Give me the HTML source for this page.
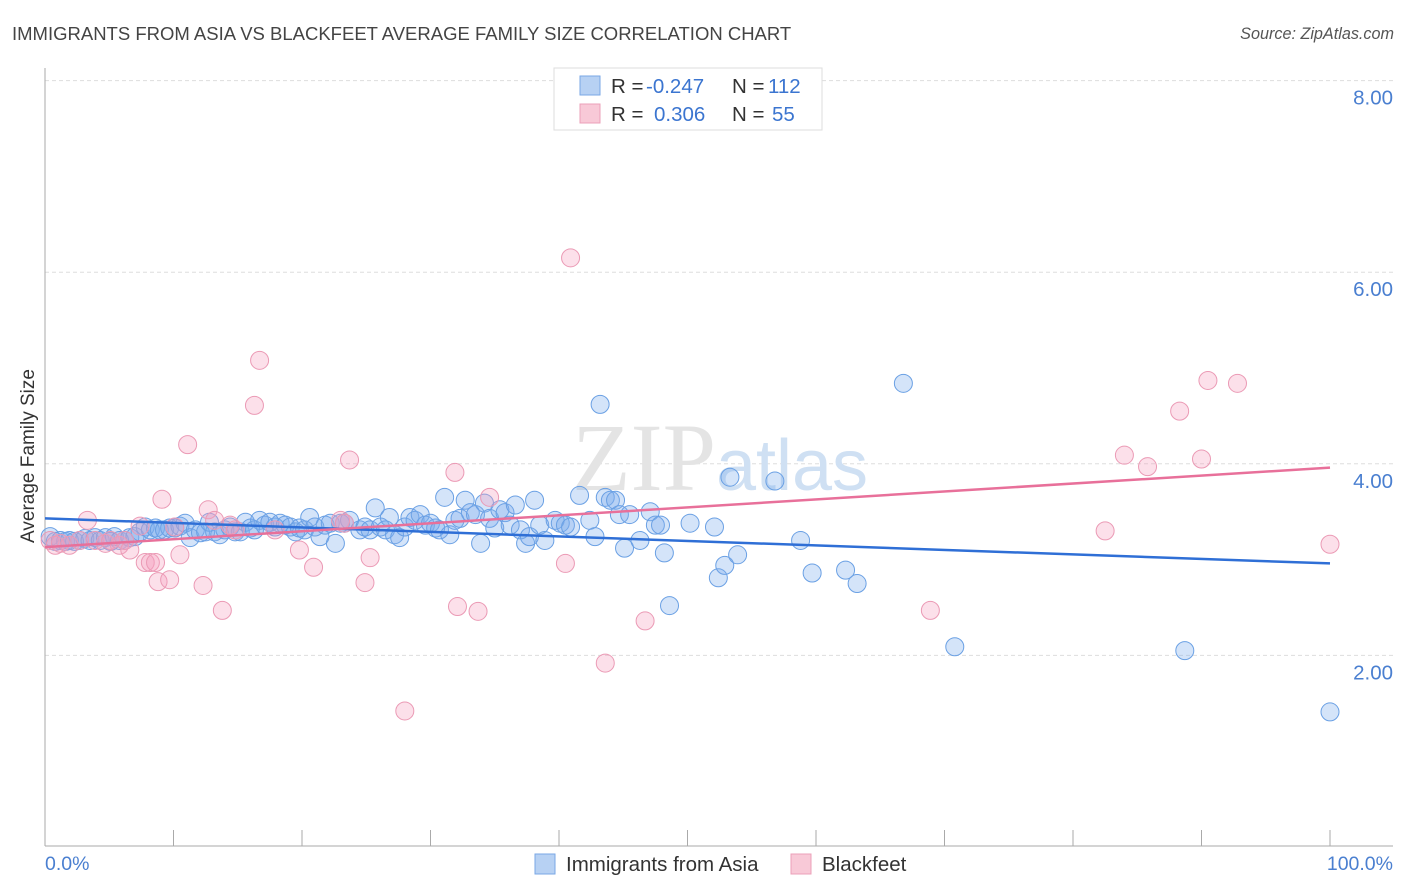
<!DOCTYPE html>
<html><head><meta charset="utf-8"><style>
body{margin:0;background:#fff;font-family:"Liberation Sans",sans-serif}
svg{display:block}
</style></head><body>
<svg id="chart" width="1406" height="892">
<text x="12" y="40" font-size="18.5" fill="#444">IMMIGRANTS FROM ASIA VS BLACKFEET AVERAGE FAMILY SIZE CORRELATION CHART</text>
<text x="1394" y="39" font-size="16.2" fill="#555" font-style="italic" text-anchor="end">Source: ZipAtlas.com</text>
<g id="grid"></g>
<text x="720" y="490" font-size="96" fill="#e4e4e4" text-anchor="middle" font-family="Liberation Serif,serif">ZIP<tspan fill="#cfe0f3" font-family="Liberation Sans,sans-serif" font-size="72">atlas</tspan></text>
<line x1="45" y1="68" x2="45" y2="846" stroke="#aaa"/>
<line x1="45" y1="846" x2="1393" y2="846" stroke="#aaa"/>
<g id="ticks"></g>
<g id="pts"></g>
<g id="lines"></g>
<text x="34" y="456" font-size="19" fill="#333" text-anchor="middle" transform="rotate(-90 34 456)">Average Family Size</text>
<text x="45" y="870" font-size="19.5" fill="#4a7fd0">0.0%</text>
<text x="1393" y="870" font-size="19.5" fill="#4a7fd0" text-anchor="end">100.0%</text>
<g>
<rect x="554" y="68" width="268" height="62" fill="#fff" stroke="#ddd"/>
<rect x="580" y="76" width="20" height="19" fill="#b7d1f3" stroke="#7aa7e6"/>
<rect x="580" y="104" width="20" height="19" fill="#f8c9d7" stroke="#eba0b8"/>
<text x="611" y="93" font-size="20.5" fill="#333">R =</text>
<text x="646" y="93" font-size="20.5" fill="#3b75d0">-0.247</text>
<text x="732" y="93" font-size="20.5" fill="#333">N =</text>
<text x="768" y="93" font-size="20.5" fill="#3b75d0">112</text>
<text x="611" y="121" font-size="20.5" fill="#333">R =</text>
<text x="654" y="121" font-size="20.5" fill="#3b75d0">0.306</text>
<text x="732" y="121" font-size="20.5" fill="#333">N =</text>
<text x="772" y="121" font-size="20.5" fill="#3b75d0">55</text>
</g>
<g>
<rect x="535" y="854" width="20" height="20" fill="#b7d1f3" stroke="#7aa7e6"/>
<text x="566" y="871" font-size="20.5" fill="#333">Immigrants from Asia</text>
</g>
<g>
<rect x="791" y="854" width="20" height="20" fill="#f8c9d7" stroke="#eba0b8"/>
<text x="822" y="871" font-size="20.5" fill="#333">Blackfeet</text>
</g>
</svg>
<script>
const yTicks=[2,4,6,8];
const yTickLabels=["2.00","4.00","6.00","8.00"];
const xTicks=[0,10,20,30,40,50,60,70,80,90,100];
const asiaX=[0.4,0.8,1.2,1.6,1.9,2.3,2.7,3.1,3.5,3.9,4.3,4.7,5.1,5.4,5.8,6.2,6.6,7.0,7.4,7.8,8.2,8.6,8.9,9.3,9.7,10.1,10.5,10.9,11.3,11.7,12.1,12.5,12.8,13.2,13.6,14.0,14.4,14.8,15.2,15.6,16.0,16.3,16.7,17.1,17.5,17.9,18.3,18.7,19.1,19.5,19.8,20.2,20.6,21.0,21.4,21.8,22.2,22.6,23.0,23.3,23.7,24.5,24.9,25.3,25.7,26.1,26.5,26.8,27.2,27.6,28.0,28.4,28.8,29.2,29.6,30.0,30.4,30.7,31.1,31.5,31.9,32.3,32.7,33.1,33.5,33.9,34.2,34.6,35.0,35.4,35.8,36.2,36.6,37.0,37.4,37.7,38.1,38.5,38.9,39.7,40.1,40.5,40.9,41.6,42.4,42.8,43.2,43.6,44.0,44.4,44.7,45.1,45.5,46.3,47.1,47.5,47.9,48.2,48.6,50.2,52.1,52.4,52.9,53.3,53.9,56.8,58.8,59.7,62.3,63.2,66.8,70.8,88.7,100];
const asiaY=[3.24,3.19,3.20,3.19,3.20,3.19,3.20,3.22,3.20,3.23,3.20,3.23,3.19,3.24,3.20,3.20,3.23,3.24,3.29,3.34,3.31,3.33,3.31,3.31,3.33,3.33,3.35,3.38,3.23,3.31,3.28,3.29,3.39,3.29,3.26,3.31,3.34,3.29,3.29,3.39,3.33,3.31,3.41,3.36,3.39,3.34,3.38,3.36,3.34,3.29,3.33,3.31,3.44,3.34,3.24,3.36,3.38,3.17,3.38,3.38,3.41,3.31,3.34,3.31,3.54,3.34,3.31,3.44,3.26,3.23,3.34,3.44,3.41,3.47,3.36,3.38,3.33,3.31,3.65,3.26,3.41,3.43,3.62,3.49,3.47,3.17,3.59,3.43,3.33,3.52,3.49,3.36,3.57,3.31,3.17,3.24,3.62,3.36,3.20,3.41,3.38,3.36,3.34,3.67,3.41,3.24,4.62,3.65,3.62,3.62,3.47,3.12,3.47,3.20,3.50,3.36,3.36,3.07,2.52,3.38,3.34,2.81,2.94,3.86,3.05,3.82,3.20,2.86,2.89,2.75,4.84,2.09,2.05,1.41];
const bfX=[0.4,0.8,1.2,1.9,2.7,3.3,3.9,4.7,5.1,5.8,6.2,6.6,7.4,7.8,8.2,8.6,8.8,9.1,9.7,10.1,10.5,11.1,12.3,12.7,13.2,13.8,14.4,14.8,16.3,16.7,17.9,19.8,20.9,23.0,23.3,23.7,24.9,25.3,28.0,31.9,32.1,33.7,34.6,40.5,40.9,43.6,46.7,68.9,82.5,84.0,85.8,88.3,90.0,90.5,92.8,100];
const bfY=[3.20,3.15,3.17,3.15,3.20,3.41,3.20,3.17,3.20,3.15,3.20,3.10,3.35,2.97,2.97,2.97,2.77,3.63,2.79,3.34,3.05,4.20,2.73,3.52,3.41,2.47,3.36,3.31,4.61,5.08,3.31,3.10,2.92,3.41,3.38,4.04,2.76,3.02,1.42,3.91,2.51,2.46,3.65,2.96,6.15,1.92,2.36,2.47,3.30,4.09,3.97,4.55,4.05,4.87,4.84,3.16];
const asiaTrend=[3.43,2.96];
const bfTrend=[3.13,3.96];
const NS="http://www.w3.org/2000/svg";
const X0=45,X1=1330,Y0=847,PU=95.8;
function sx(v){return X0+(X1-X0)*v/100;}
function sy(v){return Y0-v*PU;}
function mk(t,a,p){const e=document.createElementNS(NS,t);for(const k in a)e.setAttribute(k,a[k]);p.appendChild(e);return e;}
const grid=document.getElementById('grid');
yTicks.forEach((v,i)=>{
  const l=mk('line',{x1:45,x2:1393,y1:sy(v),y2:sy(v),stroke:'#ddd','stroke-dasharray':'4,3'},grid);
  
  
  const t=mk('text',{x:1393,y:sy(v)+24,'font-size':20.5,fill:'#4a7fd0','text-anchor':'end'},grid);
  t.textContent=yTickLabels[i];
  
  
});
const ticks=document.getElementById('ticks');
xTicks.forEach(v=>{
  const l=mk('line',{x1:sx(v),x2:sx(v),y1:830,y2:846,stroke:'#aaa'},ticks);
  
  
});
const pts=document.getElementById('pts');
asiaX.forEach((v,i)=>{
  const c=mk('circle',{cx:sx(v),cy:sy(asiaY[i]),r:9,fill:'rgba(120,170,235,0.32)',stroke:'#6aa0e4','stroke-width':1},pts);
  
  
});
bfX.forEach((v,i)=>{
  const c=mk('circle',{cx:sx(v),cy:sy(bfY[i]),r:9,fill:'rgba(245,160,190,0.32)',stroke:'#eb9ab5','stroke-width':1},pts);
  
  
});
const lines=document.getElementById('lines');
const la=mk('line',{x1:sx(0),x2:sx(100),y1:sy(asiaTrend[0]),y2:sy(asiaTrend[1]),stroke:'#2f6fd6','stroke-width':2.5},lines);


const lb=mk('line',{x1:sx(0),x2:sx(100),y1:sy(bfTrend[0]),y2:sy(bfTrend[1]),stroke:'#e8709a','stroke-width':2.5},lines);


</script>
</body></html>
